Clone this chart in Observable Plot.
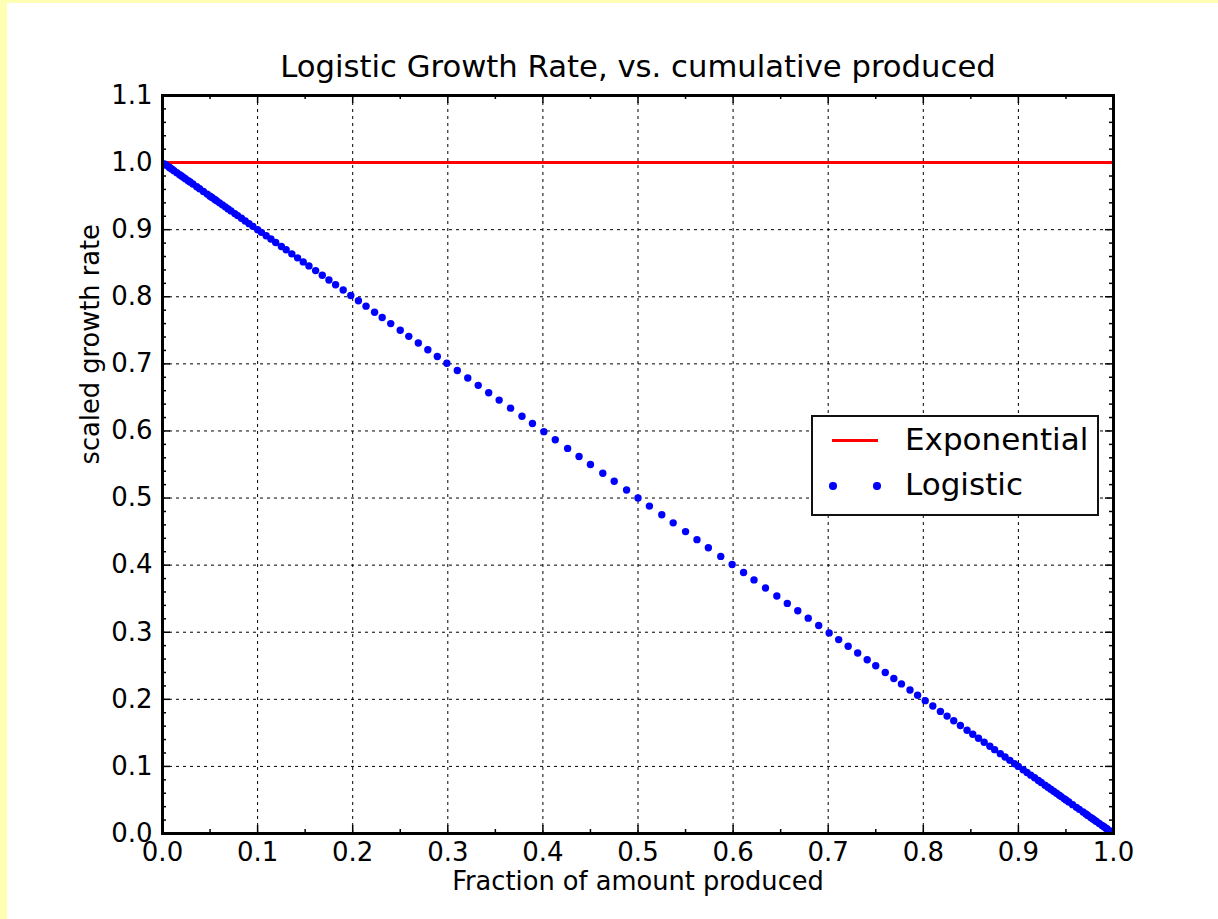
<!DOCTYPE html>
<html>
<head>
<meta charset="utf-8">
<script src="https://cdn.jsdelivr.net/npm/d3@7"></script>
<script src="https://cdn.jsdelivr.net/npm/@observablehq/plot@0.6"></script>
<style>
  html, body { margin: 0; padding: 0; background: #ffffb4; width: 1218px; height: 919px; overflow: hidden; }
  #fig { position: absolute; left: 7px; top: 3px; width: 1211px; height: 916px; background: #fff; }
  #legend { position: absolute; left: 811px; top: 415px; width: 284px; height: 97px; border: 2px solid #111; background: #fff; font-family: "DejaVu Sans", sans-serif; font-size: 31px; }
  #legend .txt { position: absolute; left: 92px; line-height: 30px; color: #000; white-space: nowrap; }
  #legend .sw-line { position: absolute; left: 19px; top: 21.5px; width: 46px; height: 3px; background: #ff0000; }
  #legend .sw-dot { position: absolute; width: 7.4px; height: 7.4px; border-radius: 50%; background: #0000ff; }
</style>
</head>
<body>
<div id="fig"></div>
<div id="legend">
  <div class="sw-line"></div>
  <div class="txt" style="top:6.5px">Exponential</div>
  <div class="sw-dot" style="left:16.3px; top:65.3px"></div>
  <div class="sw-dot" style="left:60.3px; top:65.3px"></div>
  <div class="txt" style="top:51.5px">Logistic</div>
</div>
<script>
const titleText = "Logistic Growth Rate, vs. cumulative produced";
const xLabelText = "Fraction of amount produced";
const yLabelText = "scaled growth rate";

// Logistic series: fraction of amount produced (x) and scaled growth rate (y)
const fraction = [0.002, 0.004, 0.007, 0.008, 0.010, 0.012, 0.015, 0.018, 0.020, 0.022, 0.024, 0.027, 0.029, 0.032, 0.036, 0.039, 0.043,
  0.047, 0.050, 0.052, 0.055, 0.057, 0.060, 0.063, 0.066, 0.069, 0.072, 0.076, 0.079, 0.083, 0.087, 0.091, 0.095, 0.100, 0.104, 0.109, 0.114,
  0.119, 0.125, 0.130, 0.136, 0.142, 0.148, 0.154, 0.161, 0.168, 0.175, 0.182, 0.190, 0.198, 0.206, 0.214, 0.223, 0.231, 0.240, 0.250, 0.259,
  0.269, 0.279, 0.289, 0.299, 0.310, 0.321, 0.332, 0.343, 0.354, 0.366, 0.378, 0.389, 0.401, 0.413, 0.426, 0.438, 0.450, 0.463, 0.475, 0.488,
  0.500,
  0.512, 0.525, 0.537, 0.550, 0.562, 0.574, 0.587, 0.599, 0.611, 0.622, 0.634, 0.646, 0.657, 0.668, 0.679, 0.690, 0.701, 0.711, 0.721, 0.731,
  0.741, 0.750, 0.760, 0.769, 0.777, 0.786, 0.794, 0.802, 0.810, 0.818, 0.825, 0.832, 0.839, 0.846, 0.852, 0.858, 0.864, 0.870, 0.875, 0.881,
  0.886, 0.891, 0.896, 0.900, 0.905, 0.909, 0.913, 0.917, 0.921, 0.924, 0.928, 0.931, 0.934, 0.937, 0.940, 0.943, 0.945, 0.948, 0.950, 0.953,
  0.957, 0.961, 0.964, 0.968, 0.971, 0.973, 0.976, 0.978, 0.980, 0.982, 0.985, 0.988, 0.990, 0.992, 0.993, 0.996, 0.998];
const rate = [0.998, 0.996, 0.993, 0.992, 0.990, 0.988, 0.985, 0.982, 0.980, 0.978, 0.976, 0.973, 0.971, 0.968, 0.964, 0.961, 0.957,
  0.953, 0.950, 0.948, 0.945, 0.943, 0.940, 0.937, 0.934, 0.931, 0.928, 0.924, 0.921, 0.917, 0.913, 0.909, 0.905, 0.900, 0.896, 0.891, 0.886,
  0.881, 0.875, 0.870, 0.864, 0.858, 0.852, 0.846, 0.839, 0.832, 0.825, 0.818, 0.810, 0.802, 0.794, 0.786, 0.777, 0.769, 0.760, 0.750, 0.741,
  0.731, 0.721, 0.711, 0.701, 0.690, 0.679, 0.668, 0.657, 0.646, 0.634, 0.622, 0.611, 0.599, 0.587, 0.574, 0.562, 0.550, 0.537, 0.525, 0.512,
  0.500,
  0.488, 0.475, 0.463, 0.450, 0.438, 0.426, 0.413, 0.401, 0.389, 0.378, 0.366, 0.354, 0.343, 0.332, 0.321, 0.310, 0.299, 0.289, 0.279, 0.269,
  0.259, 0.250, 0.240, 0.231, 0.223, 0.214, 0.206, 0.198, 0.190, 0.182, 0.175, 0.168, 0.161, 0.154, 0.148, 0.142, 0.136, 0.130, 0.125, 0.119,
  0.114, 0.109, 0.104, 0.100, 0.095, 0.091, 0.087, 0.083, 0.079, 0.076, 0.072, 0.069, 0.066, 0.063, 0.060, 0.057, 0.055, 0.052, 0.050, 0.047,
  0.043, 0.039, 0.036, 0.032, 0.029, 0.027, 0.024, 0.022, 0.020, 0.018, 0.015, 0.012, 0.010, 0.008, 0.007, 0.004, 0.002];

// Exponential series
const expFraction = [0, 1];
const expRate = [1, 1];

// Ticks
const xTicks = [0, 0.1, 0.2, 0.3, 0.4, 0.5, 0.6, 0.7, 0.8, 0.9, 1.0];
const yTicks = [0, 0.1, 0.2, 0.3, 0.4, 0.5, 0.6, 0.7, 0.8, 0.9, 1.0, 1.1];
const xMinor = [0.05, 0.15, 0.25, 0.35, 0.45, 0.55, 0.65, 0.75, 0.85, 0.95];
const yMinor = [0.02, 0.04, 0.06, 0.08, 0.12, 0.14, 0.16, 0.18, 0.22, 0.24, 0.26, 0.28, 0.32, 0.34, 0.36, 0.38,
  0.42, 0.44, 0.46, 0.48, 0.52, 0.54, 0.56, 0.58, 0.62, 0.64, 0.66, 0.68, 0.72, 0.74, 0.76, 0.78,
  0.82, 0.84, 0.86, 0.88, 0.92, 0.94, 0.96, 0.98, 1.02, 1.04, 1.06, 1.08];

const logistic = fraction.map((f, i) => ({f, r: rate[i]}));
const exponential = expFraction.map((f, i) => ({f, r: expRate[i]}));

const W = 1211, H = 916, ML = 155, MR = 105, MT = 92, MB = 86;
const PW = W - ML - MR, PH = H - MT - MB;
const fmt = d3.format(".1f");
const gridStyle = {stroke: "#000", strokeOpacity: 1, strokeWidth: 1, strokeDasharray: "3,4"};
const tickStyle = {stroke: "#000", strokeWidth: 1.5};

const chart = Plot.plot({
  width: W, height: H,
  marginLeft: ML, marginRight: MR, marginTop: MT, marginBottom: MB,
  style: {fontFamily: "DejaVu Sans", fontSize: "26px", color: "#000", background: "#fff", overflow: "visible"},
  x: {domain: [0, 1]},
  y: {domain: [0, 1.1]},
  marks: [
    Plot.gridX(xTicks, gridStyle),
    Plot.gridY(yTicks, gridStyle),
    // inward ticks on all four sides
    Plot.tickY(yMinor, {y: d => d, insetRight: PW - 4, ...tickStyle}),
    Plot.tickY(yMinor, {y: d => d, insetLeft: PW - 4, ...tickStyle}),
    Plot.tickY(yTicks, {y: d => d, insetRight: PW - 8, ...tickStyle}),
    Plot.tickY(yTicks, {y: d => d, insetLeft: PW - 8, ...tickStyle}),
    Plot.tickX(xMinor, {x: d => d, insetBottom: PH - 4, ...tickStyle}),
    Plot.tickX(xMinor, {x: d => d, insetTop: PH - 4, ...tickStyle}),
    Plot.tickX(xTicks, {x: d => d, insetBottom: PH - 8, ...tickStyle}),
    Plot.tickX(xTicks, {x: d => d, insetTop: PH - 8, ...tickStyle}),
    Plot.line(exponential, {x: "f", y: "r", stroke: "#ff0000", strokeWidth: 3}),
    Plot.dot(logistic, {x: "f", y: "r", r: 3.7, fill: "#0000ff", stroke: "none", clip: true}),
    Plot.frame({stroke: "#000", strokeWidth: 3}),
    Plot.axisX(xTicks, {tickSize: 0, tickPadding: 9, tickFormat: fmt, label: null, fontSize: 26}),
    Plot.axisY(yTicks, {tickSize: 0, tickPadding: 10, tickFormat: fmt, label: null, fontSize: 26}),
    Plot.text([titleText], {frameAnchor: "top", lineAnchor: "middle", dy: -28, fontSize: 30.7, fill: "#000"}),
    Plot.text([xLabelText], {frameAnchor: "bottom", lineAnchor: "middle", dy: 48, fontSize: 25.7, fill: "#000"}),
    Plot.text([yLabelText], {frameAnchor: "left", lineAnchor: "middle", dx: -72, rotate: -90, fontSize: 25.7, fill: "#000"})
  ]
});
document.getElementById("fig").appendChild(chart);
</script>
</body>
</html>
